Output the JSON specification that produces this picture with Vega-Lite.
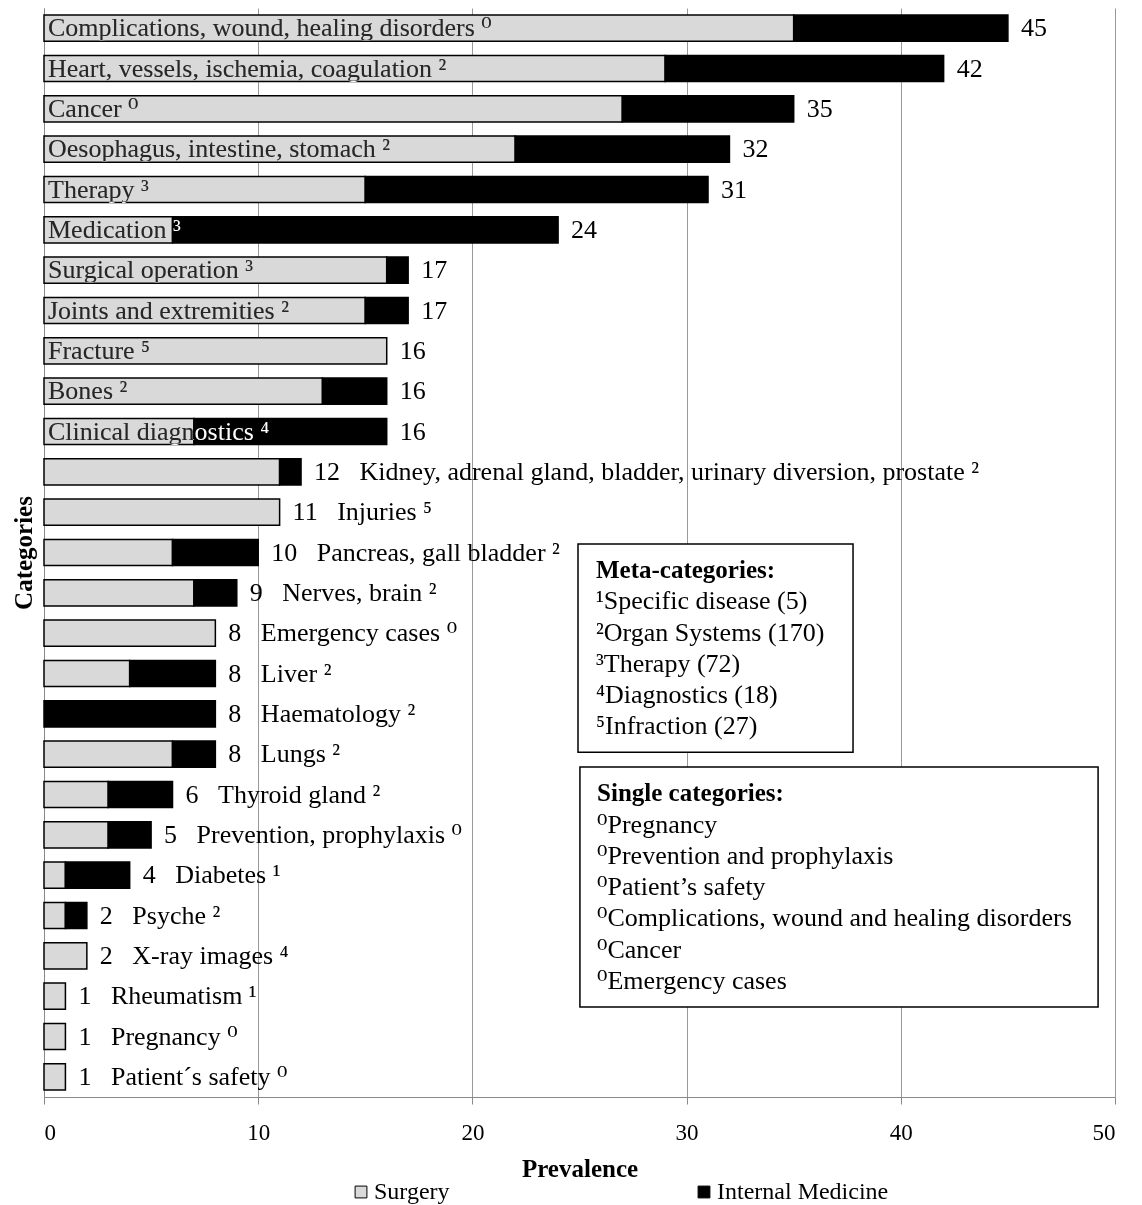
{
  "$schema": "https://vega.github.io/schema/vega-lite/v6.json",
  "width": 1071,
  "height": 1089,
  "autosize": {"type": "none"},
  "padding": {"left": 44, "top": 8, "right": 27, "bottom": 108},
  "config": {
    "font": "Liberation Serif",
    "view": {"stroke": null},
    "text": {"font": "'Liberation Serif', 'DejaVu Serif', serif", "fontSize": 26, "color": "#000"}
  },
  "datasets": {
    "rows": [
      {"i": 1, "n": "Complications, wound, healing disorders ⁰", "Surgery": 35, "Internal Medicine": 10, "in": 1},
      {"i": 2, "n": "Heart, vessels, ischemia, coagulation ²", "Surgery": 29, "Internal Medicine": 13, "in": 1},
      {"i": 3, "n": "Cancer ⁰", "Surgery": 27, "Internal Medicine": 8, "in": 1},
      {"i": 4, "n": "Oesophagus, intestine, stomach ²", "Surgery": 22, "Internal Medicine": 10, "in": 1},
      {"i": 5, "n": "Therapy  ³", "Surgery": 15, "Internal Medicine": 16, "in": 1},
      {"i": 6, "n": "Medication ³", "Surgery": 6, "Internal Medicine": 18, "in": 1},
      {"i": 7, "n": "Surgical operation ³", "Surgery": 16, "Internal Medicine": 1, "in": 1},
      {"i": 8, "n": "Joints and extremities ²", "Surgery": 15, "Internal Medicine": 2, "in": 1},
      {"i": 9, "n": "Fracture ⁵", "Surgery": 16, "Internal Medicine": 0, "in": 1},
      {"i": 10, "n": "Bones ²", "Surgery": 13, "Internal Medicine": 3, "in": 1},
      {"i": 11, "n": "Clinical diagnostics ⁴", "Surgery": 7, "Internal Medicine": 9, "in": 1},
      {"i": 12, "n": "Kidney, adrenal gland, bladder, urinary diversion, prostate ²", "Surgery": 11, "Internal Medicine": 1, "in": 0},
      {"i": 13, "n": "Injuries ⁵", "Surgery": 11, "Internal Medicine": 0, "in": 0},
      {"i": 14, "n": "Pancreas, gall bladder ²", "Surgery": 6, "Internal Medicine": 4, "in": 0},
      {"i": 15, "n": "Nerves, brain ²", "Surgery": 7, "Internal Medicine": 2, "in": 0},
      {"i": 16, "n": "Emergency cases ⁰", "Surgery": 8, "Internal Medicine": 0, "in": 0},
      {"i": 17, "n": "Liver ²", "Surgery": 4, "Internal Medicine": 4, "in": 0},
      {"i": 18, "n": "Haematology ²", "Surgery": 0, "Internal Medicine": 8, "in": 0},
      {"i": 19, "n": "Lungs ²", "Surgery": 6, "Internal Medicine": 2, "in": 0},
      {"i": 20, "n": "Thyroid gland ²", "Surgery": 3, "Internal Medicine": 3, "in": 0},
      {"i": 21, "n": "Prevention, prophylaxis ⁰", "Surgery": 3, "Internal Medicine": 2, "in": 0},
      {"i": 22, "n": "Diabetes ¹", "Surgery": 1, "Internal Medicine": 3, "in": 0},
      {"i": 23, "n": "Psyche ²", "Surgery": 1, "Internal Medicine": 1, "in": 0},
      {"i": 24, "n": "X-ray images ⁴", "Surgery": 2, "Internal Medicine": 0, "in": 0},
      {"i": 25, "n": "Rheumatism ¹", "Surgery": 1, "Internal Medicine": 0, "in": 0},
      {"i": 26, "n": "Pregnancy ⁰", "Surgery": 1, "Internal Medicine": 0, "in": 0},
      {"i": 27, "n": "Patient´s safety ⁰", "Surgery": 1, "Internal Medicine": 0, "in": 0}
    ],
    "boxes": [
      {"x": 24.93, "x2": 37.77, "y": 13.29, "y2": 18.45},
      {"x": 25.02, "x2": 49.21, "y": 18.82, "y2": 24.77}
    ],
    "notes": [
      {"x": 25.77, "y": 13.94, "t": "Meta-categories:", "b": 1},
      {"x": 25.77, "y": 14.70, "t": "¹Specific disease (5)", "b": 0},
      {"x": 25.77, "y": 15.50, "t": "²Organ Systems (170)", "b": 0},
      {"x": 25.77, "y": 16.27, "t": "³Therapy  (72)", "b": 0},
      {"x": 25.77, "y": 17.03, "t": "⁴Diagnostics (18)", "b": 0},
      {"x": 25.77, "y": 17.80, "t": "⁵Infraction (27)", "b": 0},
      {"x": 25.82, "y": 19.46, "t": "Single categories:", "b": 1},
      {"x": 25.82, "y": 20.26, "t": "⁰Pregnancy", "b": 0},
      {"x": 25.82, "y": 21.03, "t": "⁰Prevention and prophylaxis", "b": 0},
      {"x": 25.82, "y": 21.80, "t": "⁰Patient’s safety", "b": 0},
      {"x": 25.82, "y": 22.56, "t": "⁰Complications, wound and healing disorders", "b": 0},
      {"x": 25.82, "y": 23.36, "t": "⁰Cancer", "b": 0},
      {"x": 25.82, "y": 24.13, "t": "⁰Emergency  cases", "b": 0}
    ]
  },
  "layer": [
    {
      "data": {"name": "rows"},
      "encoding": {
        "y": {
          "field": "i",
          "type": "ordinal",
          "scale": {"paddingInner": 0.35, "paddingOuter": 0.175},
          "axis": {
            "title": "Categories",
            "labels": false,
            "ticks": false,
            "grid": false,
            "domain": true,
            "domainColor": "#888",
            "titleFont": "Liberation Serif",
            "titleFontSize": 25,
            "titleFontWeight": "bold",
            "titleColor": "#000",
            "titlePadding": 8
          }
        }
      },
      "layer": [
        {
          "transform": [
            {"fold": ["Surgery", "Internal Medicine"], "as": ["key", "value"]},
            {"filter": "datum.value > 0"}
          ],
          "mark": {"type": "bar", "stroke": "#000", "strokeWidth": 1.5},
          "encoding": {
            "x": {
              "field": "value",
              "type": "quantitative",
              "stack": "zero",
              "scale": {"domain": [0, 50], "nice": false},
              "axis": {
                "values": [0, 10, 20, 30, 40, 50],
                "title": "Prevalence",
                "grid": true,
                "gridColor": "#999",
                "gridWidth": 1,
                "domainColor": "#888",
                "tickColor": "#888",
                "tickSize": 7,
                "labelFont": "Liberation Serif",
                "labelFontSize": 23,
                "labelColor": "#000",
                "labelPadding": 17,
                "titleFont": "Liberation Serif",
                "titleFontSize": 25,
                "titleFontWeight": "bold",
                "titleColor": "#000",
                "titlePadding": 12
              }
            },
            "color": {
              "field": "key",
              "type": "nominal",
              "scale": {"domain": ["Surgery", "Internal Medicine"], "range": ["#d9d9d9", "#000000"]},
              "legend": {
                "title": null,
                "orient": "none",
                "direction": "horizontal",
                "legendX": 305,
                "legendY": 1172,
                "symbolType": "square",
                "symbolSize": 140,
                "symbolStrokeColor": "#000",
                "symbolStrokeWidth": 1,
                "labelFont": "Liberation Serif",
                "labelFontSize": 24,
                "labelColor": "#000",
                "labelOffset": 1,
                "labelLimit": 400,
                "columnPadding": 242
              }
            },
            "order": {"field": "key", "sort": "descending"}
          }
        },
        {
          "transform": [
            {"calculate": "datum['Surgery'] + datum['Internal Medicine']", "as": "total"},
            {"calculate": "datum['in'] == 1 ? '' + datum.total : datum.total + '\u2002\u00a0' + datum.n", "as": "lab"}
          ],
          "mark": {"type": "text", "align": "left", "baseline": "middle", "dx": 13},
          "encoding": {
            "x": {"field": "total", "type": "quantitative"},
            "text": {"field": "lab"}
          }
        },
        {
          "transform": [{"filter": "datum['in'] == 1"}],
          "mark": {"type": "text", "align": "left", "baseline": "middle", "dx": 4, "color": "#fff", "blend": "difference"},
          "encoding": {
            "x": {"datum": 0, "type": "quantitative"},
            "text": {"field": "n"}
          }
        }
      ]
    },
    {
      "layer": [
        {
          "data": {"name": "boxes"},
          "mark": {"type": "rect", "fill": "#fff", "stroke": "#000", "strokeWidth": 1.5},
          "encoding": {
            "x": {"field": "x", "type": "quantitative"},
            "x2": {"field": "x2"},
            "y": {"field": "y", "type": "quantitative", "scale": {"domain": [0, 27], "reverse": true, "nice": false, "zero": false}, "axis": null},
            "y2": {"field": "y2"}
          }
        },
        {
          "data": {"name": "notes"},
          "transform": [{"filter": "datum.b == 0"}],
          "mark": {"type": "text", "align": "left", "baseline": "middle", "fontSize": 26},
          "encoding": {
            "x": {"field": "x", "type": "quantitative"},
            "y": {"field": "y", "type": "quantitative"},
            "text": {"field": "t"}
          }
        },
        {
          "data": {"name": "notes"},
          "transform": [{"filter": "datum.b == 1"}],
          "mark": {"type": "text", "align": "left", "baseline": "middle", "fontSize": 25, "fontWeight": "bold"},
          "encoding": {
            "x": {"field": "x", "type": "quantitative"},
            "y": {"field": "y", "type": "quantitative"},
            "text": {"field": "t"}
          }
        }
      ]
    }
  ],
  "resolve": {"scale": {"y": "independent"}, "axis": {"y": "independent"}}
}
